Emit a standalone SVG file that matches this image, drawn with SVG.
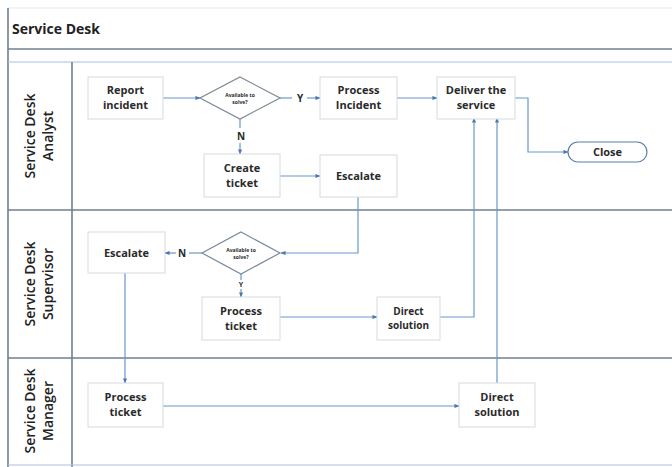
<svg xmlns="http://www.w3.org/2000/svg" width="672" height="467" viewBox="0 0 672 467">
<defs>
<style>
.frame{stroke:#6f7f90;stroke-width:1.6;fill:none}
.thin{stroke:#a9c2dd;stroke-width:1.2;fill:none}
.box{fill:#fff;stroke:#d6d9dd;stroke-width:1}
.dia{fill:#fff;stroke:#7b8a99;stroke-width:1.2}
.t{font-family:"Open Sans","Liberation Sans",sans-serif;font-size:11px;font-weight:bold;fill:#2a2a2a;text-anchor:middle}
.small{font-family:"Open Sans","Liberation Sans",sans-serif;font-size:5px;font-weight:bold;fill:#2a2a2a;text-anchor:middle}
.lab{font-family:"Open Sans","Liberation Sans",sans-serif;font-size:10px;font-weight:bold;fill:#2a2a2a;text-anchor:middle}
.lane{font-family:"Open Sans","Liberation Sans",sans-serif;font-size:14px;font-weight:600;fill:#222;text-anchor:middle}
.title{font-family:"Open Sans","Liberation Sans",sans-serif;font-size:14px;font-weight:bold;fill:#222}
.c{stroke:#6b98cc;stroke-width:1.2;fill:none;marker-end:url(#a)}
</style>
<marker id="a" viewBox="0 0 6 6" refX="5.5" refY="3" markerWidth="5" markerHeight="5" orient="auto" markerUnits="userSpaceOnUse">
<path d="M0,0.5 L6,3 L0,5.5 z" fill="#4a78b0"/>
</marker>
</defs>
<rect x="0" y="0" width="672" height="467" fill="#fff"/>
<g id="frame">
<line class="thin" x1="8" y1="8" x2="672" y2="8" style="stroke:#e3e8ee"/>
<line class="frame" x1="8" y1="8" x2="8" y2="467"/>
<line class="frame" x1="8" y1="49" x2="672" y2="49"/>
<line class="thin" x1="8" y1="62" x2="672" y2="62"/>
<line class="frame" x1="8" y1="210" x2="672" y2="210"/>
<line class="frame" x1="8" y1="358" x2="672" y2="358"/>
<line class="frame" x1="72" y1="62" x2="72" y2="467"/>
<line class="thin" x1="8" y1="465" x2="672" y2="465"/>
<text class="title" x="12" y="34">Service Desk</text>
</g>
<g id="lane-analyst">
<text class="lane" transform="translate(35,136) rotate(-90)">Service Desk</text>
<text class="lane" transform="translate(53,136) rotate(-90)">Analyst</text>
</g>
<g id="lane-supervisor">
<text class="lane" transform="translate(35,284) rotate(-90)">Service Desk</text>
<text class="lane" transform="translate(53,284) rotate(-90)">Supervisor</text>
</g>
<g id="lane-manager">
<text class="lane" transform="translate(35,411) rotate(-90)">Service Desk</text>
<text class="lane" transform="translate(53,411) rotate(-90)">Manager</text>
</g>
<g id="connectors">
<line class="c" x1="163" y1="98" x2="200" y2="98"/>
<line class="c" x1="280" y1="98" x2="292" y2="98" style="marker-end:none"/>
<line class="c" x1="307" y1="98" x2="320" y2="98"/>
<text class="lab" x="300" y="102">Y</text>
<line class="c" x1="397" y1="98" x2="437" y2="98"/>
<polyline class="c" points="515,98 528,98 528,152 568,152"/>
<line class="c" x1="240" y1="119" x2="240" y2="128" style="marker-end:none"/>
<line class="c" x1="240" y1="143" x2="240" y2="154"/>
<text class="lab" x="241" y="140">N</text>
<line class="c" x1="280" y1="176" x2="320" y2="176"/>
<polyline class="c" points="358,197 358,253 281,253"/>
<line class="c" x1="202" y1="253" x2="189" y2="253" style="marker-end:none"/>
<line class="c" x1="176" y1="253" x2="165" y2="253"/>
<text class="lab" x="182" y="257">N</text>
<line class="c" x1="241" y1="274" x2="241" y2="280" style="marker-end:none"/>
<line class="c" x1="241" y1="289" x2="241" y2="297"/>
<text class="small" x="241" y="287" style="font-size:7px">Y</text>
<line class="c" x1="280" y1="317" x2="377" y2="317"/>
<polyline class="c" points="440,317 474,317 474,118"/>
<line class="c" x1="125" y1="273" x2="125" y2="383"/>
<line class="c" x1="163" y1="406" x2="459" y2="406"/>
<line class="c" x1="497" y1="383" x2="497" y2="118"/>
</g>
<g id="report-incident">
<rect class="box" x="88" y="77" width="75" height="42"/>
<text class="t" x="125.5" y="94">Report</text>
<text class="t" x="125.5" y="109">incident</text>
</g>
<g id="decision-analyst">
<polygon class="dia" points="240,77 280,98 240,119 200,98"/>
<text class="small" x="240" y="97">Available to</text>
<text class="small" x="240" y="104">solve?</text>
</g>
<g id="process-incident">
<rect class="box" x="320" y="77" width="77" height="42"/>
<text class="t" x="358.5" y="94">Process</text>
<text class="t" x="358.5" y="109">Incident</text>
</g>
<g id="deliver-service">
<rect class="box" x="437" y="77" width="78" height="42"/>
<text class="t" x="476" y="94">Deliver the</text>
<text class="t" x="476" y="109">service</text>
</g>
<g id="close">
<rect x="568" y="142" width="79" height="20" rx="10" ry="10" fill="#fff" stroke="#5b7fa8" stroke-width="1.2"/>
<text class="t" x="607.5" y="156">Close</text>
</g>
<g id="create-ticket">
<rect class="box" x="204" y="154" width="76" height="43"/>
<text class="t" x="242" y="172">Create</text>
<text class="t" x="242" y="187">ticket</text>
</g>
<g id="escalate-analyst">
<rect class="box" x="320" y="155" width="77" height="42"/>
<text class="t" x="358.5" y="180">Escalate</text>
</g>
<g id="escalate-supervisor">
<rect class="box" x="88" y="232" width="77" height="41"/>
<text class="t" x="126.5" y="257">Escalate</text>
</g>
<g id="decision-supervisor">
<polygon class="dia" points="241,232 280,253 241,274 202,253"/>
<text class="small" x="241" y="252">Available to</text>
<text class="small" x="241" y="259">solve?</text>
</g>
<g id="process-ticket-supervisor">
<rect class="box" x="202" y="297" width="78" height="43"/>
<text class="t" x="241" y="315">Process</text>
<text class="t" x="241" y="330">ticket</text>
</g>
<g id="direct-solution-supervisor">
<rect class="box" x="377" y="297" width="63" height="43"/>
<text class="t" x="408.5" y="315" style="font-size:10px">Direct</text>
<text class="t" x="408.5" y="329" style="font-size:10px">solution</text>
</g>
<g id="process-ticket-manager">
<rect class="box" x="88" y="383" width="75" height="44"/>
<text class="t" x="125.5" y="401">Process</text>
<text class="t" x="125.5" y="416">ticket</text>
</g>
<g id="direct-solution-manager">
<rect class="box" x="459" y="383" width="76" height="44"/>
<text class="t" x="497" y="401">Direct</text>
<text class="t" x="497" y="416">solution</text>
</g>
</svg>
